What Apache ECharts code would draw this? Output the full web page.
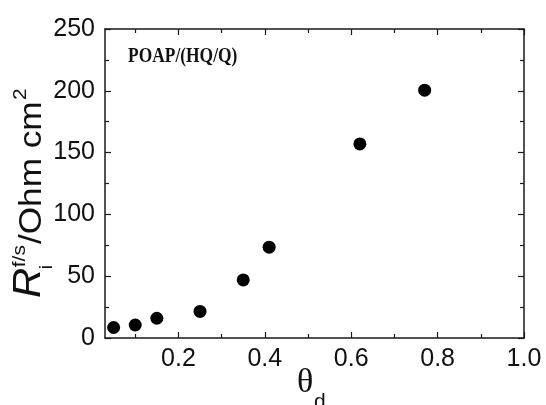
<!DOCTYPE html>
<html>
<head>
<meta charset="utf-8">
<script src="https://cdn.jsdelivr.net/npm/echarts@6/dist/echarts.min.js"></script>
<style>
  html, body { margin: 0; padding: 0; background: #fff; }
  #chart { width: 546px; height: 405px; }
</style>
</head>
<body>
<div id="chart"></div>
<script>
// Interfacial resistance vs. coverage for POAP/(HQ/Q)
const thetaD = [0.05, 0.10, 0.15, 0.25, 0.35, 0.41, 0.62, 0.77];
const resistance = [8.5, 10.5, 16, 21.5, 47, 73.5, 157, 200.5];

const xMajorTicks = [0.2, 0.4, 0.6, 0.8, 1.0];
const xMinorTicks = [0.1, 0.3, 0.5, 0.7, 0.9];
const yTickLabels = [0, 50, 100, 150, 200, 250];

const sampleLabel = 'POAP/(HQ/Q)';

const AXIS_COLOR = '#1a1a1a';
const SANS = '"Liberation Sans", Arial, sans-serif';
const SERIF = '"Liberation Serif", "Times New Roman", serif';

const X_MIN = 0.03, X_MAX = 1.0;

function xAxisDef(position, ticks, len, withLabels, showLine) {
  return {
    type: 'value', position: position, min: X_MIN, max: X_MAX,
    axisLine: { show: showLine, onZero: false, lineStyle: { color: AXIS_COLOR, width: 1.5 } },
    axisTick: { show: true, inside: true, length: len, customValues: ticks,
                lineStyle: { color: AXIS_COLOR, width: 1.2 } },
    axisLabel: withLabels ? {
      show: true, customValues: ticks, margin: 9,
      formatter: v => Number(v).toFixed(1),
      color: '#111', fontSize: 25, fontFamily: SANS
    } : { show: false },
    splitLine: { show: false }
  };
}

function yAxisDef(position, withLabels) {
  return {
    type: 'value', position: position, min: 0, max: 250, interval: 50,
    axisLine: { show: true, onZero: false, lineStyle: { color: AXIS_COLOR, width: 1.5 } },
    axisTick: { show: true, inside: true, length: 6, lineStyle: { color: AXIS_COLOR, width: 1.2 } },
    minorTick: { show: true, splitNumber: 2, length: 4, lineStyle: { color: AXIS_COLOR, width: 1.2 } },
    axisLabel: withLabels ? {
      show: true, margin: 10, color: '#111', fontSize: 25, fontFamily: SANS,
      customValues: yTickLabels
    } : { show: false },
    splitLine: { show: false }
  };
}

const chart = echarts.init(document.getElementById('chart'), null, { renderer: 'canvas' });

chart.setOption({
  animation: false,
  backgroundColor: '#ffffff',
  grid: { left: 105, top: 29, right: 22, bottom: 67, containLabel: false },
  xAxis: [
    xAxisDef('bottom', xMajorTicks, 6, true, true),
    xAxisDef('bottom', xMinorTicks, 4, false, false),
    xAxisDef('top', xMajorTicks, 6, false, true),
    xAxisDef('top', xMinorTicks, 4, false, false)
  ],
  yAxis: [
    yAxisDef('left', true),
    yAxisDef('right', false)
  ],
  series: [{
    type: 'scatter',
    xAxisIndex: 0, yAxisIndex: 0,
    symbol: 'circle', symbolSize: 13,
    itemStyle: { color: '#000', opacity: 1 },
    emphasis: { disabled: true },
    data: thetaD.map((x, i) => [x, resistance[i]])
  }],
  graphic: [
    {
      type: 'text', left: 128, top: 45, scaleX: 0.81,
      style: { text: sampleLabel, font: 'bold 21.5px ' + SERIF, fill: '#111' }
    },
    // x-axis title: theta with subscript d
    {
      type: 'group', x: 297, y: 366,
      children: [
        { type: 'text', x: 0, y: 0, style: { text: 'θ', font: '34px ' + SERIF, fill: '#111', verticalAlign: 'top' } },
        { type: 'text', x: 17, y: 26, style: { text: 'd', font: '21px ' + SANS, fill: '#111', verticalAlign: 'top' } }
      ]
    },
    // y-axis title, rotated to read bottom-to-top
    {
      type: 'group', x: 48, y: 298, rotation: Math.PI / 2, scaleX: 1.1,
      children: [
        { type: 'text', x: 0, y: 0, style: { text: 'R', font: 'italic 38px ' + SANS, fill: '#111', verticalAlign: 'bottom' } },
        { type: 'text', x: 26, y: 8, style: { text: 'i', font: '19px ' + SANS, fill: '#111', verticalAlign: 'bottom' } },
        { type: 'text', x: 28, y: -19, style: { text: 'f/s', font: '19px ' + SANS, fill: '#111', verticalAlign: 'bottom' } },
        { type: 'text', x: 49, y: 0, style: { text: '/Ohm cm', font: '32px ' + SANS, fill: '#111', verticalAlign: 'bottom' } },
        { type: 'text', x: 180, y: -18, style: { text: '2', font: '19px ' + SANS, fill: '#111', verticalAlign: 'bottom' } }
      ]
    }
  ]
});
</script>
</body>
</html>
